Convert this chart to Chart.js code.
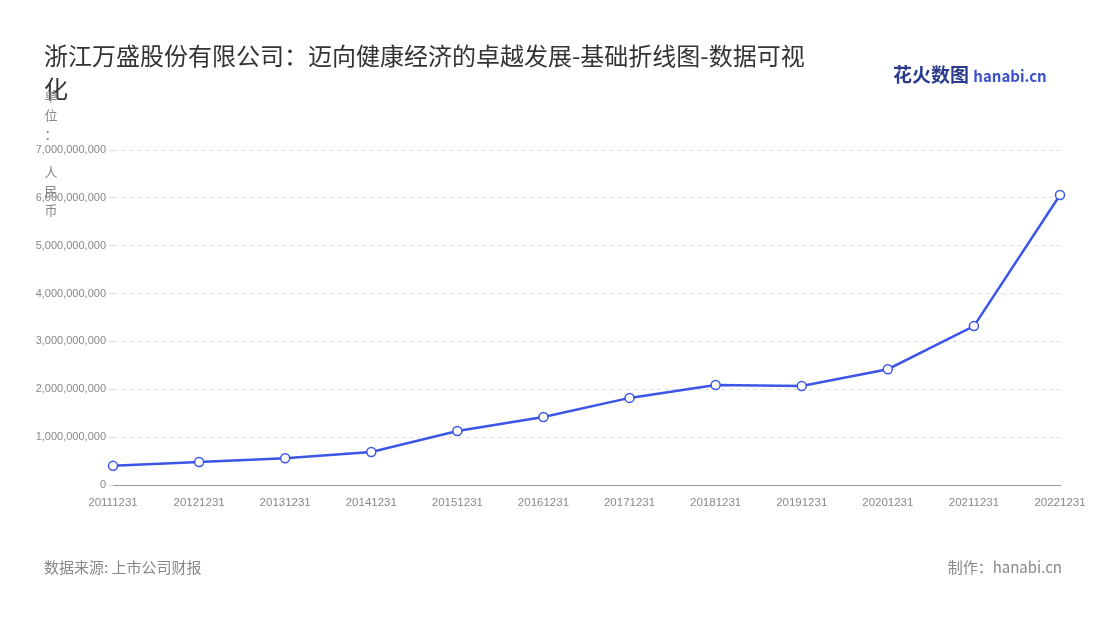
<!DOCTYPE html>
<html><head><meta charset="utf-8">
<script src="https://cdn.jsdelivr.net/npm/chart.js@4"></script>
<style>
body{margin:0;width:1100px;height:620px;background:#fff;font-family:"Noto Sans CJK SC","Noto Sans",sans-serif;position:relative;overflow:hidden}
#title{position:absolute;left:44px;top:38px;width:770px;font-size:24px;line-height:33px;color:#333}
#unit{position:absolute;left:43px;top:86px;width:16px;font-size:13px;line-height:19px;color:#888;text-align:center}
#src{position:absolute;left:44px;top:556px;font-size:15px;color:#888}
#made{position:absolute;right:38px;top:556px;font-size:15px;color:#888}
#logo{position:absolute;left:893px;top:60px;font-size:19px;font-weight:bold;color:#2b3a8c}
#logo span{font-size:15px;color:#3a4fd0}
canvas{position:absolute;left:0;top:0}
</style></head><body>
<canvas id="c" width="1100" height="620"></canvas>
<div id="title">浙江万盛股份有限公司：迈向健康经济的卓越发展-基础折线图-数据可视化</div>
<div id="logo">花火数图 <span>hanabi.cn</span></div>
<div id="unit">单<br>位<br>：<br><br>人<br>民<br>币</div>
<div id="src">数据来源: 上市公司财报</div>
<div id="made">制作：hanabi.cn</div>
<script>
// ── Data ──
const years = ['20111231','20121231','20131231','20141231','20151231','20161231',
  '20171231','20181231','20191231','20201231','20211231','20221231'];
const revenue = [400e6, 480e6, 560e6, 690e6, 1130e6, 1420e6,
  1820e6, 2090e6, 2070e6, 2420e6, 3320e6, 6060e6];

new Chart(document.getElementById('c').getContext('2d'), {
  type: 'line',
  data: { labels: years, datasets: [{
    data: revenue, borderColor: '#3b55e6', borderWidth: 2.5, tension: 0,
    pointRadius: 4.5, pointBackgroundColor: '#fff', pointBorderColor: '#3b55e6', pointBorderWidth: 1.5
  }]},
  options: {
    animation: false, responsive: false,
    layout: { padding: { left: 0, right: 40, top: 150, bottom: 105 } },
    plugins: { legend: { display: false }, tooltip: { enabled: false } },
    scales: {
      x: {
        offset: false,
        grid: { display: false },
        border: { color: '#999' },
        ticks: { color: '#888', font: { size: 11.5 }, maxRotation: 0, autoSkip: false },
        afterFit: s => { s.height = 30; }
      },
      y: {
        min: 0, max: 7e9,
        ticks: { stepSize: 1e9, color: '#888', font: { size: 11 },
          callback: v => v.toLocaleString('en-US') },
        grid: { color: '#ddd', drawTicks: true, tickLength: 4 },
        border: { display: false, dash: [4, 4] },
        afterFit: s => { s.width = 113; }
      }
    }
  }
});
</script>
</body></html>
